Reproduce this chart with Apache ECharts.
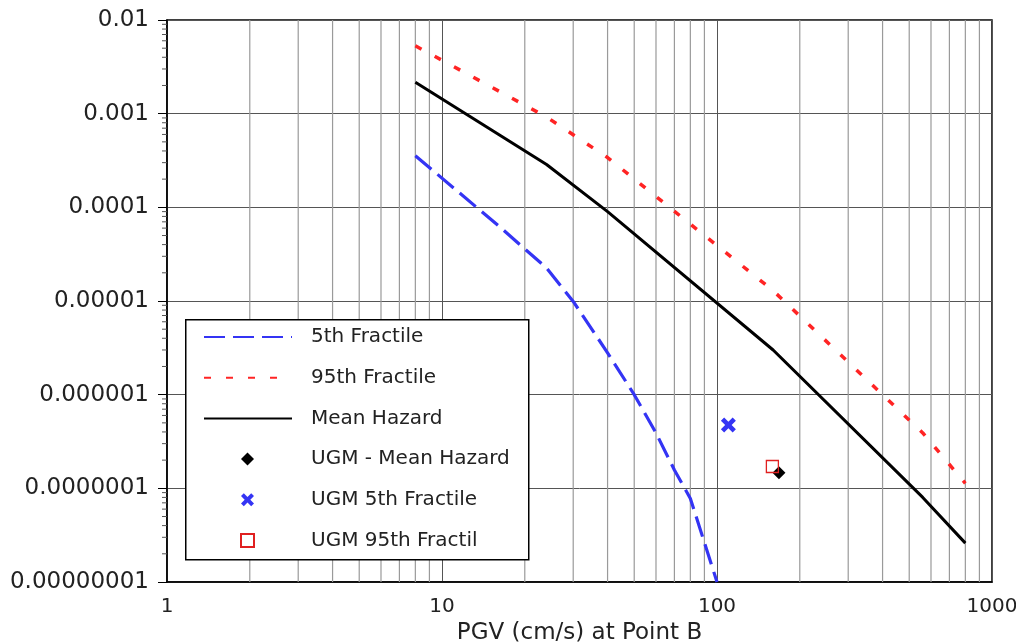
<!DOCTYPE html>
<html>
<head>
<meta charset="utf-8">
<script src="https://cdn.jsdelivr.net/npm/echarts@6/dist/echarts.min.js"></script>
<style>
html,body{margin:0;padding:0;background:#fff;}
#chart{width:1016px;height:643px;}
</style>
</head>
<body>
<div id="chart"></div>
<script>
// ---- data ----
const fractile5 = [
  [8, 3.56e-4], [16, 6.4e-5], [24, 2.25e-5], [30, 9.9e-6], [40, 2.8e-6],
  [50, 1.0e-6], [60, 3.9e-7], [70, 1.57e-7], [80, 7.8e-8], [100, 1.0e-8]
];
const fractile95 = [
  [8, 5.3e-3], [24, 9.2e-4], [40, 3.4e-4], [160, 1.29e-5], [560, 3.9e-7], [800, 1.13e-7]
];
const meanHazard = [
  [8, 2.16e-3], [24, 2.87e-4], [40, 9.0e-5], [160, 3.0e-6], [560, 8.0e-8], [800, 2.6e-8]
];
const ugmMean = [[168, 1.47e-7]];
const ugm5 = [[110, 4.75e-7]];
const ugm95 = [[159, 1.71e-7]];

const xTickLabels = ['1', '10', '100', '1000'];
const yTickLabels = ['0.00000001', '0.0000001', '0.000001', '0.00001', '0.0001', '0.001', '0.01'];
const xMinorGrid = [2,3,4,5,6,7,8,9,20,30,40,50,60,70,80,90,200,300,400,500,600,700,800,900];
const yMinorTicks = [];
[1e-8,1e-7,1e-6,1e-5,1e-4,1e-3].forEach(d => { for (let k = 2; k <= 9; k++) yMinorTicks.push(k * d); });

const lineNames = ['5th Fractile', '95th Fractile', 'Mean Hazard'];
const markerNames = ['UGM - Mean Hazard', 'UGM 5th Fractile', 'UGM 95th Fractil'];

const X_MIN = 1, X_MAX = 1000, Y_MIN = 1e-8, Y_MAX = 0.01;
const FONT = 'DejaVu Sans';
const BLUE = '#3434f4', RED = '#ff2424';
const X_PATH = 'path://M0,2.6 L2.6,0 L6,3.4 L9.4,0 L12,2.6 L8.6,6 L12,9.4 L9.4,12 L6,8.6 L2.6,12 L0,9.4 L3.4,6 Z';

const hideDot = {color: 'rgba(0,0,0,0)', borderColor: 'rgba(0,0,0,0)', borderWidth: 0, opacity: 0};

const chart = echarts.init(document.getElementById('chart'), null, {renderer: 'canvas'});
chart.setOption({
  animation: false,
  backgroundColor: '#fff',
  grid: {left: 167, right: 24, top: 20, bottom: 61, containLabel: false, outerBoundsMode: 'none',
    show: true, borderColor: '#000', borderWidth: 1.5, backgroundColor: 'transparent'},
  xAxis: {
    type: 'log', logBase: 10, min: X_MIN, max: X_MAX, splitNumber: 3,
    name: 'PGV (cm/s) at Point B', nameLocation: 'middle', nameGap: 40,
    nameTextStyle: {fontFamily: FONT, fontSize: 23, color: '#222'},
    axisLine: {show: true, lineStyle: {color: '#000', width: 1.5}},
    axisTick: {show: false},
    axisLabel: {fontFamily: FONT, fontSize: 20, color: '#222', margin: 15,
      formatter: v => xTickLabels[Math.round(Math.log10(v))]},
    splitLine: {show: true, lineStyle: {color: '#555', width: 1}}
  },
  yAxis: {
    type: 'log', logBase: 10, min: Y_MIN, max: Y_MAX, splitNumber: 6,
    name: 'Annual Hazard', nameLocation: 'middle', nameGap: 134,
    nameTextStyle: {fontFamily: FONT, fontSize: 20, color: '#222'},
    axisLine: {show: true, lineStyle: {color: '#000', width: 1.5}},
    axisTick: {show: true, length: 9, lineStyle: {color: '#000', width: 1}},
    axisLabel: {fontFamily: FONT, fontSize: 23, color: '#222', margin: 18,
      formatter: v => yTickLabels[Math.round(Math.log10(v)) + 8]},
    splitLine: {show: true, lineStyle: {color: '#555', width: 1}}
  },
  graphic: [{
    type: 'rect', left: 185, top: 319, z: 10, silent: true,
    shape: {x: 0, y: 0, width: 343, height: 240},
    style: {fill: '#fff', stroke: '#000', lineWidth: 1.5}
  }],
  legend: [
    {
      data: lineNames.map(n => ({name: n, itemStyle: hideDot})),
      orient: 'vertical', left: 203, top: 327, padding: 0, z: 12,
      itemWidth: 88, itemHeight: 20, itemGap: 20.8,
      textStyle: {fontFamily: FONT, fontSize: 20, color: '#222', padding: [0, 0, 0, 14]}
    },
    {
      data: markerNames,
      orient: 'vertical', left: 240, top: 449, padding: 0, z: 12,
      itemWidth: 13, itemHeight: 13, itemGap: 20.8,
      textStyle: {fontFamily: FONT, fontSize: 20, color: '#222', padding: [0, 0, 0, 52]}
    }
  ],
  series: [
    {
      type: 'custom', name: 'minorGrid', z: 1, silent: true, clip: false,
      data: xMinorGrid.map(v => [v]),
      encode: {x: 0},
      renderItem: (params, api) => {
        const a = api.coord([api.value(0), Y_MIN]);
        const b = api.coord([api.value(0), Y_MAX]);
        return {type: 'line', shape: {x1: a[0], y1: a[1], x2: b[0], y2: b[1]}, style: {stroke: '#9a9a9a', lineWidth: 1.2}};
      }
    },
    {
      type: 'custom', name: 'minorTicks', z: 3, silent: true, clip: false,
      data: yMinorTicks.map(v => [X_MIN, v]),
      encode: {x: 0, y: 1},
      renderItem: (params, api) => {
        const p = api.coord([api.value(0), api.value(1)]);
        return {type: 'line', shape: {x1: p[0] - 5, y1: p[1], x2: p[0], y2: p[1]}, style: {stroke: '#555', lineWidth: 1}};
      }
    },
    {
      name: '5th Fractile', type: 'line', data: fractile5, symbol: 'none', z: 5,
      color: BLUE,
      lineStyle: {color: BLUE, width: 3.2, type: [21, 8]}
    },
    {
      name: '95th Fractile', type: 'line', data: fractile95, symbol: 'none', z: 5,
      color: RED,
      lineStyle: {color: RED, width: 3.5, type: [7, 15]}
    },
    {
      name: 'Mean Hazard', type: 'line', data: meanHazard, symbol: 'none', z: 5,
      color: '#000',
      lineStyle: {color: '#000', width: 3}
    },
    {
      name: 'UGM - Mean Hazard', type: 'scatter', data: ugmMean, symbol: 'diamond', symbolSize: 13, z: 6,
      itemStyle: {color: '#000', opacity: 1}
    },
    {
      name: 'UGM 5th Fractile', type: 'scatter', data: ugm5, symbol: X_PATH, symbolSize: 15, z: 6,
      itemStyle: {color: BLUE, opacity: 1}
    },
    {
      name: 'UGM 95th Fractil', type: 'scatter', data: ugm95, symbol: 'rect', symbolSize: 12, z: 7,
      itemStyle: {color: 'rgba(255,255,255,0)', borderColor: '#e02020', borderWidth: 1.3, opacity: 1}
    }
  ]
});
</script>
</body>
</html>
